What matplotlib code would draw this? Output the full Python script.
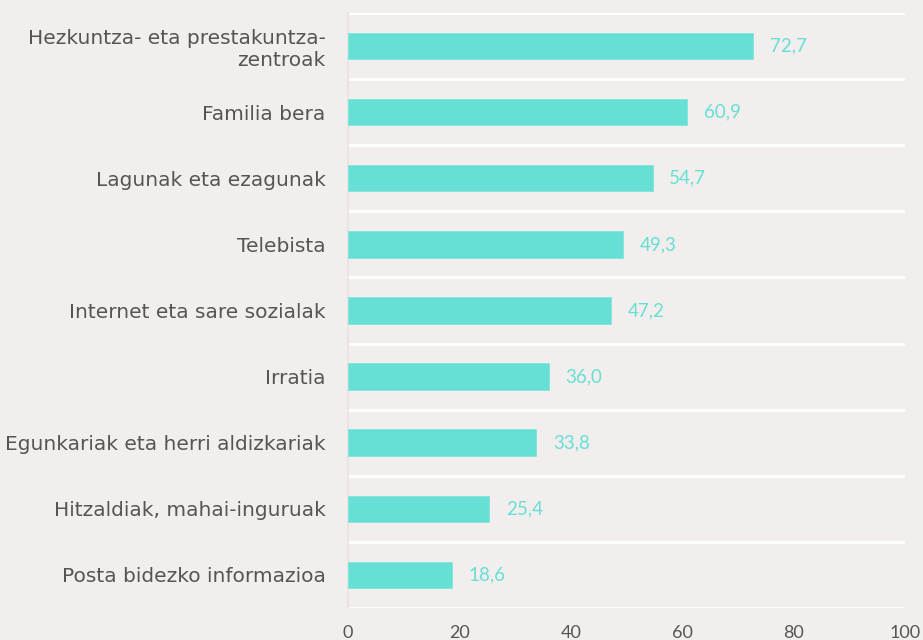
import matplotlib.pyplot as plt
import numpy as np

# data
categories = ['Hezkuntza- eta prestakuntza-\nzentroak', 'Familia bera', 'Lagunak eta ezagunak',
              'Telebista', 'Internet eta sare sozialak', 'Irratia',
              'Egunkariak eta herri aldizkariak', 'Hitzaldiak, mahai-inguruak',
              'Posta bidezko informazioa']
values = [72.7, 60.9, 54.7, 49.3, 47.2, 36.0, 33.8, 25.4, 18.6]
xticks = [0, 20, 40, 60, 80, 100]

bg = '#f2eeed'
teal = '#66e0d5'
grey = '#555555'

plt.rcParams['font.family'] = ['Lato', 'DejaVu Sans']

fig = plt.figure(figsize=(9.23, 6.4), dpi=100, facecolor=bg)
ax = fig.add_axes([0.377, 0.05, 0.6035, 0.9297])
ax.set_facecolor(bg)

y = np.arange(len(categories))
ax.barh(y, values, height=0.4, color=teal, edgecolor='#7fe6dc', linewidth=0.6, zorder=3)
for yi, v in zip(y, values):
    ax.text(v + 3, yi, f'{v:.1f}'.replace('.', ','), va='center', ha='left',
            color=teal, fontsize=13.5)

ax.set_xlim(0, 100)
ax.set_ylim(len(categories) - 0.5, -0.5)
ax.set_yticks(y)
ax.set_yticklabels(categories, fontsize=14.5, color=grey, family='DejaVu Sans',
                   linespacing=1.2)
ax.set_xticks(xticks)
ax.set_xticklabels([str(t) for t in xticks], fontsize=13, color=grey)
ax.tick_params(axis='both', length=0)
ax.tick_params(axis='y', pad=16)
ax.tick_params(axis='x', pad=12)

# white separators between categories
for b in np.arange(len(categories) + 1) - 0.5:
    ax.axhline(b, color='white', lw=2, zorder=2)

for s in ['top', 'right', 'bottom']:
    ax.spines[s].set_visible(False)
ax.spines['left'].set_color('#e8e2e0')
ax.spines['left'].set_linewidth(1.2)

fig.savefig('out.png', dpi=100, facecolor=bg)
